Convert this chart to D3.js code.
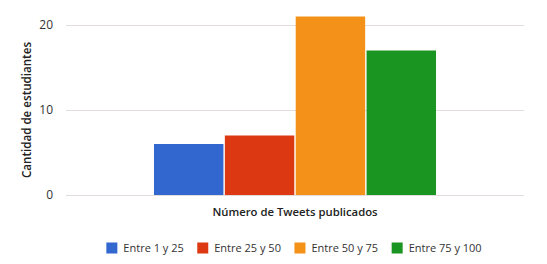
<!DOCTYPE html>
<html>
<head>
<meta charset="utf-8">
<script src="https://cdn.jsdelivr.net/npm/d3@7"></script>
<style>
  body { margin: 0; background: #fff; }
  text { font-family: "Open Sans", sans-serif; }
</style>
</head>
<body>
<div id="chart"></div>
<script>
// Datos del gráfico
const categories = ['Número de Tweets publicados'];
const seriesNames = ['Entre 1 y 25', 'Entre 25 y 50', 'Entre 50 y 75', 'Entre 75 y 100'];
const seriesValues = [6, 7, 21, 17];
const yTicks = [0, 10, 20];
const colors = ['#3367d0', '#dc3912', '#f39118', '#1a9522'];

const width = 547, height = 264;
const plot = { left: 66, right: 524, top: 25, bottom: 195 };

const svg = d3.select('#chart').append('svg')
  .attr('width', width)
  .attr('height', height);

const y = d3.scaleLinear()
  .domain([0, 20])
  .range([plot.bottom, plot.top]);

const x0 = d3.scaleBand()
  .domain(categories)
  .range([plot.left, plot.right])
  .paddingInner(0)
  .paddingOuter(0.312);

const x1 = d3.scaleBand()
  .domain(seriesNames)
  .range([0, x0.bandwidth()])
  .paddingInner(0.02);

// lineas de la grilla
svg.append('g')
  .selectAll('line')
  .data(yTicks)
  .enter().append('line')
  .attr('x1', plot.left)
  .attr('x2', plot.right)
  .attr('y1', d => Math.round(y(d)) + 0.5)
  .attr('y2', d => Math.round(y(d)) + 0.5)
  .attr('stroke', '#e2dcdc')
  .attr('stroke-width', 1);

// etiquetas del eje Y
svg.append('g')
  .selectAll('text')
  .data(yTicks)
  .enter().append('text')
  .attr('x', 53)
  .attr('y', d => y(d))
  .attr('dy', '0.35em')
  .attr('text-anchor', 'end')
  .attr('font-size', 12)
  .attr('fill', '#333')
  .text(d => d);

// barras
svg.append('g')
  .selectAll('rect')
  .data(seriesValues)
  .enter().append('rect')
  .attr('x', (d, i) => x0(categories[0]) + x1(seriesNames[i]))
  .attr('width', x1.bandwidth())
  .attr('y', d => y(d))
  .attr('height', d => y(0) - y(d))
  .attr('fill', (d, i) => colors[i]);

// titulo eje X (categoria)
svg.append('text')
  .attr('x', x0(categories[0]) + x0.bandwidth() / 2)
  .attr('y', 212)
  .attr('dy', '0.35em')
  .attr('text-anchor', 'middle')
  .attr('font-size', 11.3)
  .attr('font-weight', 600)
  .attr('fill', '#222')
  .text(categories[0]);

// titulo eje Y
svg.append('text')
  .attr('transform', 'translate(27,' + ((plot.top + plot.bottom) / 2) + ') rotate(-90)')
  .attr('dy', '0.35em')
  .attr('text-anchor', 'middle')
  .attr('font-size', 11.6)
  .attr('font-weight', 600)
  .attr('fill', '#222')
  .text('Cantidad de estudiantes');

// leyenda
const legend = svg.append('g').attr('class', 'legend');
const items = legend.selectAll('g')
  .data(seriesNames)
  .enter().append('g');
items.append('rect')
  .attr('width', 11)
  .attr('height', 11)
  .attr('y', -5.5)
  .attr('fill', (d, i) => colors[i]);
items.append('text')
  .attr('x', 17)
  .attr('dy', '0.35em')
  .attr('font-size', 11)
  .attr('fill', '#333')
  .text(d => d);

const gap = 13.5;
let cx = 0;
items.each(function () {
  const g = d3.select(this);
  g.attr('transform', 'translate(' + cx + ',0)');
  cx += 17 + g.select('text').node().getComputedTextLength() + gap;
});
const total = cx - gap;
legend.attr('transform', 'translate(' + (294 - total / 2) + ',248)');
</script>
</body>
</html>
